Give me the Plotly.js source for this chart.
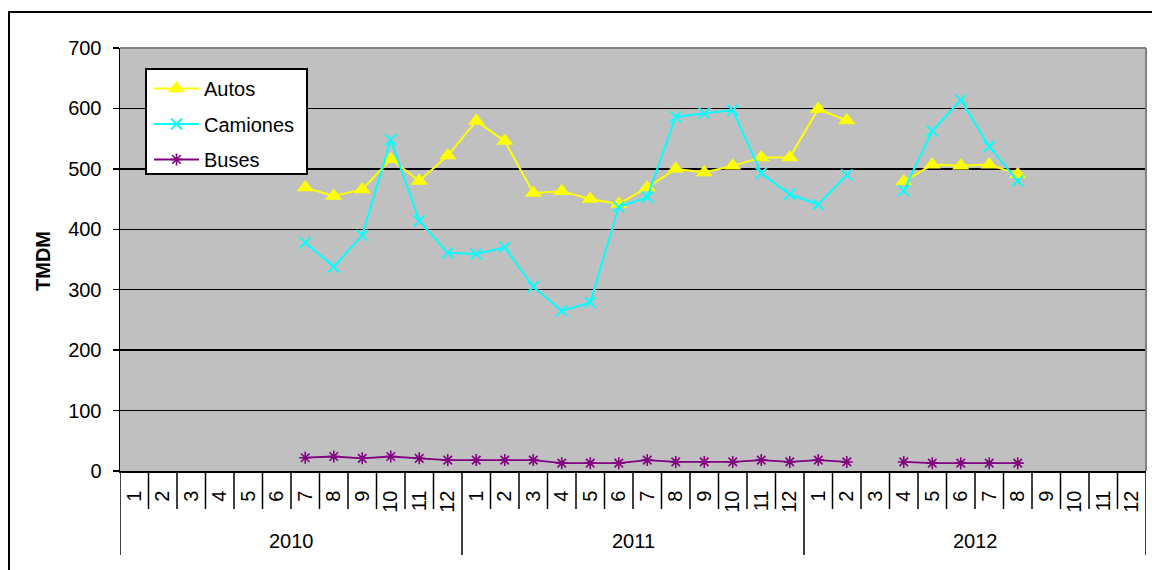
<!DOCTYPE html>
<html>
<head>
<meta charset="utf-8">
<script src="https://cdn.plot.ly/plotly-3.0.1.min.js"></script>
<style>html,body{margin:0;padding:0;background:#fff;}#chart{width:1152px;height:570px;}</style>
</head>
<body>
<div id="chart"></div>
<script>
const years = ['2010', '2011', '2012'];
const months = ['1','2','3','4','5','6','7','8','9','10','11','12'];

const autos = [
  null, null, null, null, null, null, 469, 455, 466, 516, 480, 522,
  579, 546, 460, 463, 450, 442, 469, 500, 494, 505, 519, 519,
  599, 580, null, 479, 507, 505, 507, 491, null, null, null, null
];
const camiones = [
  null, null, null, null, null, null, 378, 338, 390, 548, 414, 361,
  359, 370, 305, 265, 279, 437, 453, 586, 592, 597, 493, 458,
  441, 490, null, 464, 563, 614, 537, 480, null, null, null, null
];
const buses = [
  null, null, null, null, null, null, 22, 24, 21, 24, 21, 18,
  18, 18, 18, 13, 13, 13, 18, 15, 15, 15, 18, 15,
  18, 15, null, 15, 13, 13, 13, 13, null, null, null, null
];
const yTicks = [0, 100, 200, 300, 400, 500, 600, 700];

// category positions (1..36) and tick labels built from years and months
const xIdx = [], xText = [];
years.forEach((y, yi) => months.forEach((m, mi) => { xIdx.push(yi * 12 + mi + 1); xText.push(m); }));
const nCat = xIdx.length;

const FONT = 'Liberation Sans, Arial, sans-serif';
const FS = 20;

const traces = [
  {name: 'Autos', x: xIdx, y: autos, type: 'scatter', mode: 'lines+markers', legendgroup: 'a',
   line: {color: '#FFFF00', width: 2}, marker: {symbol: 'triangle-up', size: 15, color: '#FFFF00'}},
  {name: 'Camiones', x: xIdx, y: camiones, type: 'scatter', mode: 'lines+markers', legendgroup: 'b',
   line: {color: '#00FFFF', width: 2}, marker: {symbol: 'x-thin', size: 11, color: '#00FFFF', line: {color: '#00FFFF', width: 1.8}}},
  {name: 'Buses', x: xIdx, y: buses, type: 'scatter', mode: 'lines+markers', legendgroup: 'c',
   line: {color: '#800080', width: 1.8}, marker: {symbol: 'asterisk', size: 10, color: '#800080', line: {color: '#800080', width: 1.6}}}
];

const plotH = 423, plotW = 1026;
const px = v => (v - 120) / plotW;
const py = v => (471 - v) / plotH;
const shapes = [];
for (let k = 0; k <= nCat; k++) {
  const isYear = (k % 12 === 0);
  shapes.push({type: 'line', xref: 'x', yref: 'paper', x0: k + 0.5, x1: k + 0.5,
    y0: 0, y1: isYear ? py(555) : py(509), line: {color: '#000', width: 1.5}});
}
// plot area gray border top and right
shapes.push({type: 'line', xref: 'paper', yref: 'paper', x0: 0, x1: 1, y0: 1, y1: 1, line: {color: '#808080', width: 2}, layer: 'above'});
shapes.push({type: 'line', xref: 'paper', yref: 'paper', x0: 1, x1: 1, y0: 0, y1: 1, line: {color: '#808080', width: 2}, layer: 'above'});
// legend box
shapes.push({type: 'rect', xref: 'paper', yref: 'paper', x0: px(146), x1: px(307), y0: py(174), y1: py(69),
  line: {color: '#000', width: 2}, fillcolor: '#FFFFFF', layer: 'above'});
// outer chart frame
shapes.push({type: 'rect', xref: 'paper', yref: 'paper',
  x0: px(9), x1: px(1175), y0: py(610), y1: py(12),
  line: {color: '#000', width: 2}, fillcolor: 'rgba(0,0,0,0)'});

const annotations = years.map((y, yi) => ({
  text: y, xref: 'x', yref: 'paper', x: yi * 12 + 6.5, y: py(541),
  showarrow: false, xanchor: 'center', yanchor: 'middle', font: {family: FONT, size: FS, color: '#000'}
}));
annotations.push({text: '<b>TMDM</b>', xref: 'paper', yref: 'paper', x: px(43), y: py(261),
  textangle: -90, showarrow: false, xanchor: 'center', yanchor: 'middle', font: {family: FONT, size: FS, color: '#000'}});

const layout = {
  width: 1152, height: 570,
  margin: {l: 120, r: 6, t: 48, b: 99},
  paper_bgcolor: '#FFFFFF', plot_bgcolor: '#C0C0C0',
  showlegend: true,
  legend: {x: px(149), y: py(69), xanchor: 'left', yanchor: 'top',
    bgcolor: 'rgba(0,0,0,0)', borderwidth: 0, itemwidth: 45,
    font: {family: FONT, size: FS, color: '#000'}, tracegroupgap: 6.5},
  xaxis: {range: [0.5, nCat + 0.5], tickvals: xIdx, ticktext: xText, tickangle: -90,
    ticks: '', showgrid: false, zeroline: false, showline: true, linecolor: '#000', linewidth: 1.5,
    tickfont: {family: FONT, size: FS, color: '#000'}, ticklabelstandoff: 10, fixedrange: true},
  yaxis: {range: [0, 700], tickvals: yTicks, ticktext: yTicks.map(String), ticks: 'outside', ticklen: 6,
    tickcolor: '#000', tickwidth: 1.5, showgrid: true, gridcolor: '#000', gridwidth: 1.5,
    zeroline: false, showline: true, linecolor: '#000', linewidth: 1.5,
    tickfont: {family: FONT, size: FS, color: '#000'}, ticklabelstandoff: 7, fixedrange: true},
  shapes: shapes,
  annotations: annotations
};

Plotly.newPlot('chart', traces, layout, {displayModeBar: false, staticPlot: true});
</script>
</body>
</html>
